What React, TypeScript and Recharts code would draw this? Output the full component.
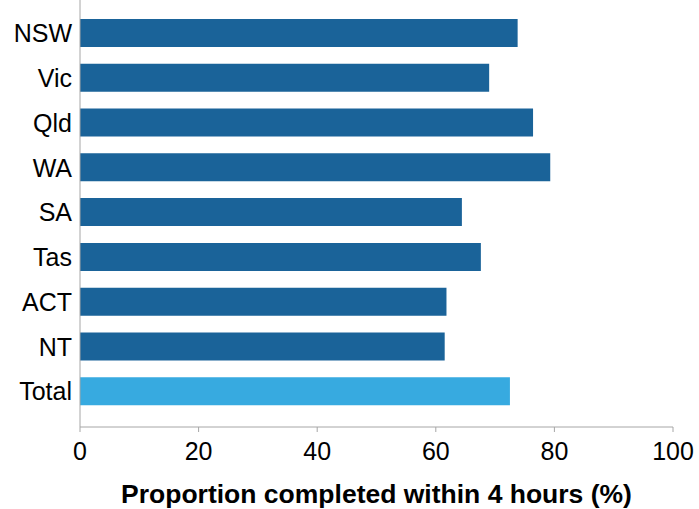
import { Bar, BarChart, Cell, XAxis, YAxis } from "recharts";

// Jurisdictions, top to bottom
const jurisdictions = ["NSW", "Vic", "Qld", "WA", "SA", "Tas", "ACT", "NT", "Total"];

// Proportion completed within 4 hours (%)
const proportions = [73.8, 69.0, 76.4, 79.3, 64.4, 67.6, 61.8, 61.5, 72.5];

const xTicks = [0, 20, 40, 60, 80, 100];

const STATE_COLOR = "#1a6399";
const TOTAL_COLOR = "#37aae0";
const AXIS_COLOR = "#a6a6a6";

const data = jurisdictions.map((name, i) => ({ name, value: proportions[i] }));

export default function App() {
  return (
    <div style={{ position: "absolute", left: 0, top: 0, background: "#fff" }}>
      <BarChart
        width={699}
        height={509}
        data={data}
        layout="vertical"
        margin={{ top: 0, right: 26, bottom: 0, left: 0 }}
        barSize={28}
        style={{ fontFamily: "'Liberation Sans', Arial, sans-serif" }}
      >
        <XAxis
          type="number"
          domain={[0, 100]}
          ticks={xTicks}
          height={82}
          stroke={AXIS_COLOR}
          tickSize={5}
          tickMargin={10}
          tick={{ fill: "#000", fontSize: 25 }}
          interval={0}
          label={{
            value: "Proportion completed within 4 hours (%)",
            position: "insideBottom",
            offset: 6,
            fill: "#000",
            fontSize: 26.5,
            fontWeight: "bold",
          }}
        />
        <YAxis
          type="category"
          dataKey="name"
          width={80}
          stroke={AXIS_COLOR}
          tickLine={false}
          tick={{ fill: "#000", fontSize: 25 }}
          padding={{ top: 11, bottom: 13 }}
          interval={0}
        />
        <Bar dataKey="value" isAnimationActive={false}>
          {data.map((d) => (
            <Cell key={d.name} fill={d.name === "Total" ? TOTAL_COLOR : STATE_COLOR} />
          ))}
        </Bar>
      </BarChart>
    </div>
  );
}
